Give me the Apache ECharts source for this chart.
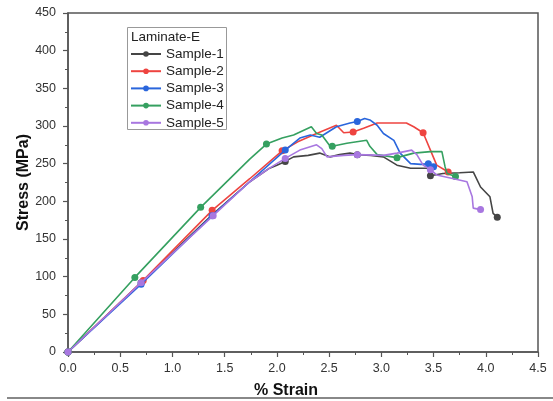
<!DOCTYPE html>
<html>
<head>
<meta charset="utf-8">
<script src="https://cdn.jsdelivr.net/npm/echarts@6/dist/echarts.min.js"></script>
<style>html,body{margin:0;padding:0;background:#fff;}#c{width:553px;height:401px;}</style>
</head>
<body>
<div id="c"></div>
<script>
const legendTitle = 'Laminate-E';
const names = ['Sample-1', 'Sample-2', 'Sample-3', 'Sample-4', 'Sample-5'];
const xTicks = [0.0, 0.5, 1.0, 1.5, 2.0, 2.5, 3.0, 3.5, 4.0, 4.5];
const yTicks = [0, 50, 100, 150, 200, 250, 300, 350, 400, 450];

const s1x = [0, 0.70, 1.38, 1.74, 1.93, 2.00, 2.08, 2.16, 2.30, 2.41, 2.51, 2.60, 2.70, 2.77, 2.90, 3.02, 3.15, 3.28, 3.44, 3.47, 3.59, 3.75, 3.88, 3.95, 4.04, 4.07, 4.11];
const s1y = [0, 92, 182, 226, 244, 248, 253, 259, 261, 264, 259, 262, 264, 262, 261, 259, 248, 244, 244, 234, 237, 238, 239, 219, 206, 184, 179];
const s1m = [0, 1, 2, 6, 13, 19, 26];

const s2x = [0, 0.72, 1.38, 1.74, 2.05, 2.20, 2.38, 2.57, 2.64, 2.73, 2.83, 2.96, 3.12, 3.24, 3.31, 3.40, 3.47, 3.53, 3.64];
const s2y = [0, 95, 188, 230, 267, 279, 290, 301, 291, 292, 297, 304, 304, 304, 299, 291, 268, 248, 239];
const s2m = [0, 1, 2, 4, 9, 15, 18];

const s3x = [0, 0.70, 1.38, 1.74, 2.08, 2.22, 2.32, 2.41, 2.57, 2.70, 2.77, 2.84, 2.89, 2.96, 3.02, 3.12, 3.18, 3.28, 3.38, 3.45, 3.50];
const s3y = [0, 90, 181, 226, 268, 284, 288, 285, 299, 304, 306, 310, 308, 301, 290, 281, 264, 250, 249, 250, 246];
const s3m = [0, 1, 2, 4, 10, 19, 20];

const s4x = [0, 0.64, 1.27, 1.74, 1.90, 2.05, 2.16, 2.33, 2.38, 2.43, 2.51, 2.53, 2.67, 2.86, 2.89, 2.96, 3.15, 3.31, 3.47, 3.58, 3.61, 3.63, 3.71];
const s4y = [0, 99, 192, 256, 276, 284, 288, 299, 290, 288, 273, 273, 277, 281, 273, 262, 258, 264, 266, 266, 246, 237, 233];
const s4m = [0, 1, 2, 4, 11, 16, 22];

const s5x = [0, 0.70, 1.39, 1.74, 1.93, 2.08, 2.22, 2.38, 2.43, 2.48, 2.64, 2.77, 3.02, 3.15, 3.29, 3.34, 3.40, 3.47, 3.53, 3.66, 3.82, 3.87, 3.88, 3.95];
const s5y = [0, 92, 181, 226, 244, 257, 268, 275, 270, 259, 261, 262, 261, 264, 268, 262, 248, 242, 235, 231, 226, 206, 191, 189];
const s5m = [0, 1, 2, 5, 11, 17, 23];

const colors = ['#454545', '#ee4440', '#2a66dc', '#35a060', '#a877e0'];

const sets = [[s1x, s1y, s1m], [s2x, s2y, s2m], [s3x, s3y, s3m], [s4x, s4y, s4m], [s5x, s5y, s5m]];
const FONT = "'Liberation Sans', Arial, sans-serif";

const series = sets.map(function (s, i) {
  const data = s[0].map(function (x, j) {
    const item = { value: [x, s[1][j]] };
    if (s[2].indexOf(j) < 0) item.symbol = 'none';
    return item;
  });
  return {
    name: names[i], type: 'line', data: data, symbol: 'circle', symbolSize: 7,
    showAllSymbol: true, z: 2 + i,
    lineStyle: { color: colors[i], width: 1.6 },
    itemStyle: { color: colors[i] },
    emphasis: { disabled: true }, animation: false
  };
});
const chart = echarts.init(document.getElementById('c'), null, { renderer: 'canvas' });
chart.setOption({
  animation: false,
  grid: { left: 68, right: 15, top: 13, bottom: 49, outerBoundsMode: 'none', containLabel: false, show: true, borderColor: '#555', borderWidth: 1.5, backgroundColor: 'transparent' },
  xAxis: {
    type: 'value', min: 0, max: 4.5, interval: 0.5,
    name: '% Strain', nameLocation: 'middle', nameGap: 31, nameMoveOverlap: false,
    nameTextStyle: { fontFamily: FONT, fontSize: 16, fontWeight: 'bold', color: '#111', padding: [0, 34, 0, 0] },
    axisLine: { show: true, lineStyle: { color: '#555', width: 1.5 } },
    axisTick: { show: true, inside: false, length: 5, lineStyle: { color: '#555', width: 1.2 } },
    minorTick: { show: true, splitNumber: 2, length: 3, lineStyle: { color: '#555', width: 1 } },
    splitLine: { show: false },
    axisLabel: { fontFamily: FONT, fontSize: 12.5, color: '#333', margin: 10, formatter: function (v) { return v.toFixed(1); } }
  },
  yAxis: {
    type: 'value', min: 0, max: 450, interval: 50,
    name: 'Stress (MPa)', nameLocation: 'middle', nameGap: 36, nameMoveOverlap: false,
    nameTextStyle: { fontFamily: FONT, fontSize: 16, fontWeight: 'bold', color: '#111' },
    axisLine: { show: true, lineStyle: { color: '#555', width: 1.5 } },
    axisTick: { show: true, inside: false, length: 5, lineStyle: { color: '#555', width: 1.2 } },
    minorTick: { show: true, splitNumber: 2, length: 3, lineStyle: { color: '#555', width: 1 } },
    splitLine: { show: false },
    axisLabel: { fontFamily: FONT, fontSize: 12.5, color: '#333', margin: 12 }
  },
  legend: {
    data: names, orient: 'vertical', left: 130, top: 47, padding: 0,
    itemWidth: 30, itemHeight: 7, itemGap: 3.2,
    textStyle: { fontFamily: FONT, fontSize: 13.5, color: '#222', lineHeight: 13 },
    selectedMode: false
  },
  graphic: [
    { type: 'rect', shape: { x: 127.5, y: 27.5, width: 99, height: 102 }, style: { fill: 'none', stroke: '#999', lineWidth: 1 }, z: 10 },
    { type: 'text', left: 131, top: 30, style: { text: legendTitle, font: '13.5px ' + FONT, fill: '#222' }, z: 10 },
    { type: 'line', shape: { x1: 7, y1: 398, x2: 553, y2: 398 }, style: { stroke: '#888', lineWidth: 2 }, z: 10 }
  ],
  series: series
});
</script>
</body>
</html>
